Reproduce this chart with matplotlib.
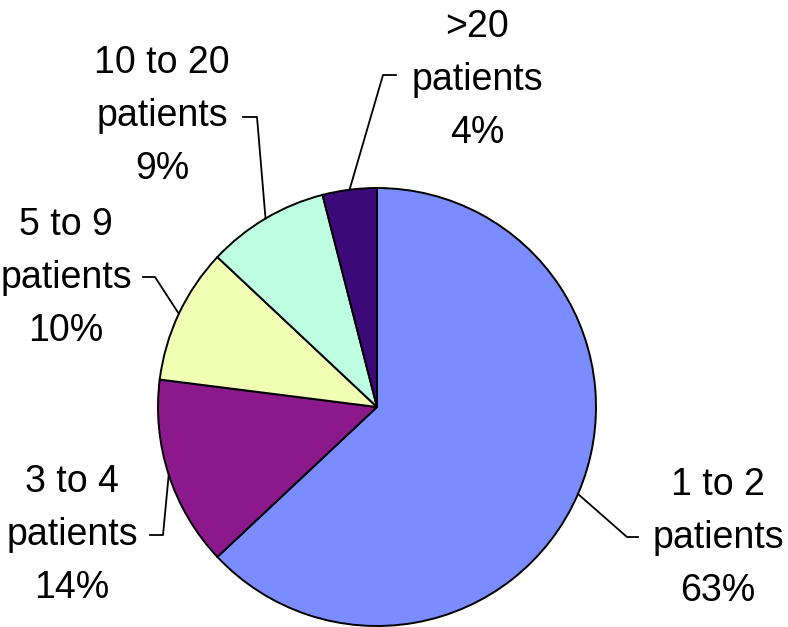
import matplotlib.pyplot as plt
import numpy as np

categories = ['1 to 2\npatients', '3 to 4\npatients', '5 to 9\npatients',
              '10 to 20\npatients', '>20\npatients']
shares = [63, 14, 10, 9, 4]
colors = ['#7b8cff', '#8c198c', '#f0ffb4', '#bfffe1', '#3c0a78']

# label layout in pixels (text centre, elbow of leader, tick end)
W, H = 788, 627
cx, cy, R = 377, 407, 219
text_px = [(718, 538), (72, 535), (66, 278), (162, 116), (477, 80)]
elbow_px = [(627, 537), (163, 535), (155, 277), (257, 117), (383, 75)]
tick_px = [(638, 537), (150, 535), (143, 277), (243, 117), (396, 75)]


def to_data(p):
    return ((p[0] - cx) / R, (cy - p[1]) / R)


plt.rcParams['font.family'] = ['Liberation Sans', 'DejaVu Sans']
fig = plt.figure(figsize=(W / 100, H / 100), dpi=100)
ax = fig.add_axes([0, 0, 1, 1])

wedges, _ = ax.pie(shares, colors=colors, startangle=90, counterclock=False,
                   radius=1, wedgeprops=dict(edgecolor='black', linewidth=1.4))

for w, cat, val, t, e, k in zip(wedges, categories, shares, text_px, elbow_px, tick_px):
    mid = np.deg2rad((w.theta1 + w.theta2) / 2)
    sx, sy = np.cos(mid), np.sin(mid)
    ex, ey = to_data(e)
    kx, ky = to_data(k)
    ax.plot([sx, ex, kx], [sy, ey, ky], color='black', lw=1.3, clip_on=False)
    tx, ty = to_data(t)
    ax.text(tx, ty, f'{cat}\n{val}%', ha='center', va='center', fontsize=27,
            linespacing=1.62)

ax.set_xlim(-cx / R, (W - cx) / R)
ax.set_ylim(-(H - cy) / R, cy / R)
ax.set_aspect('auto')
ax.axis('off')

fig.savefig('out.png', dpi=100)
